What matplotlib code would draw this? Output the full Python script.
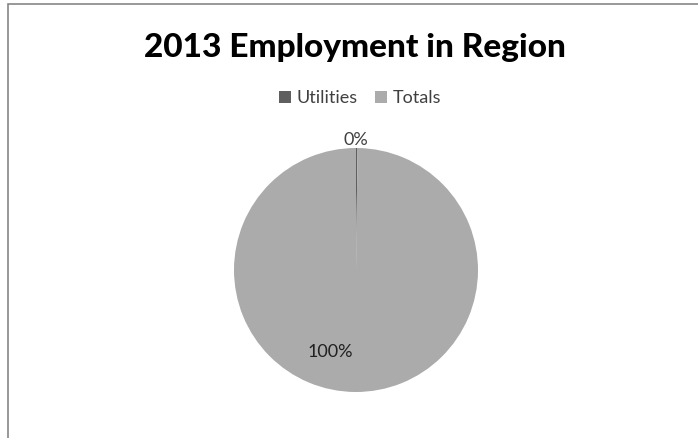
"""2013 employment pie chart: utilities share of regional total."""

import matplotlib.pyplot as plt
from matplotlib.patches import Rectangle

plt.rcParams["font.family"] = ["Lato", "DejaVu Sans"]

# data
CATEGORIES = ["Utilities", "Totals"]
VALUES = [0.2, 99.8]
COLORS = ["#5f5f5f", "#ababab"]

W, H = 698, 438


def main() -> None:
    fig = plt.figure(figsize=(W / 100, H / 100), dpi=100)

    # pie centred at (356, 270) px, radius 122 px
    cx, cy, r = 356, 270, 122
    ax = fig.add_axes([(cx - r) / W, (H - cy - r) / H, 2 * r / W, 2 * r / H])

    wedges, texts, autotexts = ax.pie(
        VALUES,
        colors=COLORS,
        startangle=90,
        counterclock=False,
        autopct="%1.0f%%",
        wedgeprops={"linewidth": 0},
        textprops={"fontsize": 13, "color": "#404040"},
    )
    ax.set_xlim(-1, 1)
    ax.set_ylim(-1, 1)
    ax.set_aspect("equal")

    # label placement similar to "best fit"
    autotexts[0].set_position((0, 1.065))
    autotexts[1].set_position((-0.21, -0.67))
    autotexts[1].set_color("#202020")

    fig.text(355 / W, 1 - 47 / H, "2013 Employment in Region",
             ha="center", va="center", fontsize=24, fontweight="black", color="#000000")

    fig.legend(wedges, CATEGORIES, loc="center", bbox_to_anchor=(360 / W, 1 - 98 / H),
               ncol=2, frameon=False, fontsize=13, handlelength=0.65, handleheight=0.65,
               handletextpad=0.3, columnspacing=1.0, labelcolor="#404040")

    # chart area border
    fig.patches.append(Rectangle((8 / W, -0.1), 1.2, 1.1 - 4 / H, transform=fig.transFigure,
                                 fill=False, edgecolor="#868686", linewidth=1.2))

    fig.savefig("out.png", dpi=100, facecolor="white")


if __name__ == "__main__":
    main()
